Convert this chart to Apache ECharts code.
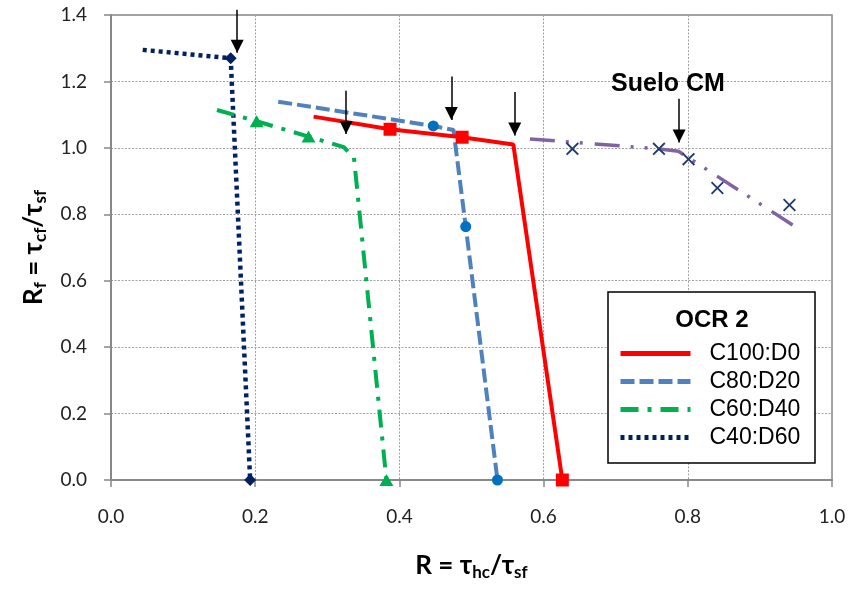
<!DOCTYPE html>
<html><head><meta charset="utf-8">
<script src="https://cdn.jsdelivr.net/npm/echarts@6/dist/echarts.min.js"></script>
<style>html,body{margin:0;padding:0;background:#fff}#c{width:849px;height:590px}</style>
</head><body><div id="c"></div>
<script>
// ---- data ----
const legendNames = ['C100:D0', 'C80:D20', 'C60:D40', 'C40:D60'];
// C100:D0
const c100X = [0.281, 0.387, 0.487, 0.558, 0.626];
const c100Y = [1.094, 1.056, 1.032, 1.010, 0.0];
const c100Mark = [false, true, true, false, true];
// C80:D20
const c80X = [0.232, 0.447, 0.475, 0.492, 0.536];
const c80Y = [1.139, 1.066, 1.054, 0.763, 0.0];
const c80Mark = [false, true, false, true, true];
// C60:D40
const c60X = [0.147, 0.202, 0.274, 0.323, 0.337, 0.382];
const c60Y = [1.114, 1.080, 1.034, 1.002, 0.970, 0.0];
const c60Mark = [false, true, true, false, false, true];
// C40:D60
const c40X = [0.044, 0.166, 0.193];
const c40Y = [1.295, 1.270, 0.0];
const c40Mark = [false, true, true];
// Suelo CM points and its trend line
const cmX = [0.640, 0.760, 0.801, 0.841, 0.941];
const cmY = [0.997, 0.997, 0.966, 0.879, 0.828];
const cmTrendX = [0.581, 0.760, 0.787, 0.951];
const cmTrendY = [1.027, 0.997, 0.990, 0.760];
const cmLabel = 'Suelo CM';
const cmLabelPos = [0.7725, 1.193];
// arrows (vertical, pointing down)
const arrowX = [0.175, 0.326, 0.472, 0.560, 0.788];
const arrowTop = [1.416, 1.172, 1.215, 1.168, 1.148];
const arrowTip = [1.286, 1.042, 1.084, 1.037, 1.016];
// axes
const xMin = 0, xMax = 1.0, xStep = 0.2;
const yMin = 0, yMax = 1.4, yStep = 0.2;
const legendTitle = 'OCR 2';

const zip = (xs, ys) => xs.map((x, i) => [x, ys[i]]);
const pick = (xs, ys, m) => zip(xs, ys).filter((_, i) => m[i]);

const tickFont = 'Lato, "Open Sans", sans-serif';
const titleFont = 'Lato, "Noto Sans", sans-serif';
const richTitle = {
  m: {fontSize: 26, fontWeight: 'bold', fontFamily: titleFont, color: '#000', lineHeight: 31},
  s: {fontSize: 17, fontWeight: 'bold', fontFamily: titleFont, color: '#000', lineHeight: 17, padding: [14, 0, 0, 0]}
};

const axisCommon = {
  type: 'value',
  axisLine: {show: true, lineStyle: {color: '#888', width: 2}},
  axisTick: {show: true, length: 7, lineStyle: {color: '#888', width: 1.5}},
  splitLine: {show: true, lineStyle: {type: [2, 1.5], color: '#a0a0a0', width: 1}},
  axisLabel: {fontFamily: tickFont, fontSize: 19, color: '#222', formatter: v => v.toFixed(1)},
  nameLocation: 'middle',
  nameTextStyle: {rich: richTitle}
};

const chart = echarts.init(document.getElementById('c'), null, {renderer: 'canvas'});
chart.setOption({
  animation: false,
  backgroundColor: '#fff',
  grid: {left: 111, right: 17, top: 15, bottom: 110, show: true, borderColor: '#888', borderWidth: 1.5},
  xAxis: Object.assign({}, axisCommon, {
    min: xMin, max: xMax, interval: xStep,
    axisLabel: Object.assign({}, axisCommon.axisLabel, {margin: 27}),
    name: '{m|R = τ}{s|hc}{m|/τ}{s|sf}', nameGap: 70
  }),
  yAxis: Object.assign({}, axisCommon, {
    min: yMin, max: yMax, interval: yStep,
    axisLabel: Object.assign({}, axisCommon.axisLabel, {margin: 24}),
    name: '{m|R}{s|f}{m| = τ}{s|cf}{m|/τ}{s|sf}', nameGap: 62
  }),
  legend: {
    data: legendNames, orient: 'vertical', left: 618, top: 342, z: 10,
    itemWidth: 70, itemHeight: 20, itemGap: 5, selectedMode: false, padding: 0,
    itemStyle: {opacity: 0},
    lineStyle: {width: 5},
    textStyle: {fontFamily: '"Liberation Sans", Arial, sans-serif', fontSize: 23, color: '#000', lineHeight: 22, padding: [0, 0, 0, 14]}
  },
  graphic: {
    elements: [
      {type: 'rect', x: 608, y: 292, shape: {x: 0, y: 0, width: 207, height: 171}, style: {fill: '#fff', stroke: '#000', lineWidth: 1.5}, z: 3},
      {type: 'text', x: 712, y: 320, style: {text: legendTitle, font: 'bold 24px "Liberation Sans", Arial, sans-serif', fill: '#000', textAlign: 'center', textVerticalAlign: 'middle'}, z: 11}
    ]
  },
  series: [
    {type: 'line', name: 'C40:D60', data: zip(c40X, c40Y), symbol: 'none', z: 2,
      lineStyle: {color: '#002060', width: 4.5, type: [4, 4]}, itemStyle: {color: '#002060'}},
    {type: 'line', name: 'C60:D40', data: zip(c60X, c60Y), symbol: 'none', z: 2,
      lineStyle: {color: '#00B050', width: 4, type: [18, 9, 4, 9]}, itemStyle: {color: '#00B050'}},
    {type: 'line', name: 'C80:D20', data: zip(c80X, c80Y), symbol: 'none', z: 2,
      lineStyle: {color: '#4F81BD', width: 4, type: [14, 5]}, itemStyle: {color: '#4F81BD'}},
    {type: 'line', name: 'C100:D0', data: zip(c100X, c100Y), symbol: 'none', z: 2,
      lineStyle: {color: '#FF0000', width: 4}, itemStyle: {color: '#FF0000'}},
    {type: 'line', name: 'Suelo CM trend', data: zip(cmTrendX, cmTrendY), symbol: 'none', z: 2,
      lineStyle: {color: '#8064A2', width: 3.5, type: [25, 11, 3, 11, 3, 12]}},
    {type: 'scatter', name: 'm40', data: pick(c40X, c40Y, c40Mark), symbol: 'diamond', symbolSize: 12, itemStyle: {color: '#002060', opacity: 1}, z: 4},
    {type: 'scatter', name: 'm60', data: pick(c60X, c60Y, c60Mark), symbol: 'triangle', symbolSize: [14, 12], itemStyle: {color: '#00B050', opacity: 1}, z: 4},
    {type: 'scatter', name: 'm80', data: pick(c80X, c80Y, c80Mark), symbol: 'circle', symbolSize: 11, itemStyle: {color: '#0070C0', opacity: 1}, z: 4},
    {type: 'scatter', name: 'm100', data: pick(c100X, c100Y, c100Mark), symbol: 'rect', symbolSize: 13, itemStyle: {color: '#FF0000', opacity: 1}, z: 4},
    {type: 'scatter', name: 'Suelo CM', data: zip(cmX, cmY), z: 4,
      symbol: 'path://M0,1L1,0L5,4L9,0L10,1L6,5L10,9L9,10L5,6L1,10L0,9L4,5Z', symbolSize: 13, itemStyle: {color: '#1F3A6E', opacity: 1}},
    {type: 'lines', coordinateSystem: 'cartesian2d', clip: false, z: 5,
      data: arrowX.map((x, i) => ({coords: [[x, arrowTop[i]], [x, arrowTip[i]]]})),
      lineStyle: {color: '#000', width: 1.5, opacity: 1}},
    {type: 'scatter', name: 'arrowheads', data: zip(arrowX, arrowTip), symbol: 'triangle', symbolRotate: 180,
      symbolSize: [13, 13], symbolOffset: [0, -6.5], itemStyle: {color: '#000', opacity: 1}, z: 6, clip: false},
    {type: 'scatter', name: 'label', data: [cmLabelPos], symbolSize: 0, z: 6, itemStyle: {opacity: 1},
      label: {show: true, position: 'inside', formatter: cmLabel, fontFamily: '"Liberation Sans Narrow", "Liberation Sans", Arial, sans-serif',
        fontWeight: 'bold', fontSize: 25, color: '#000'}}
  ]
});
</script></body></html>
